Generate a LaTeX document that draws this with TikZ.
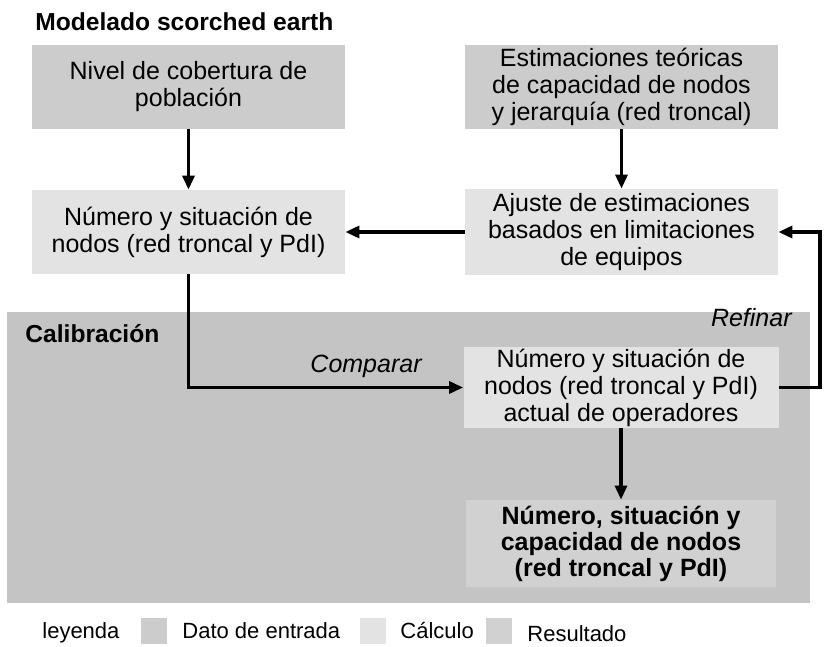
\documentclass[tikz,border=0pt]{standalone}
\usepackage{fontspec}
\setmainfont{Liberation Sans}
\usetikzlibrary{arrows.meta}
\definecolor{inputcol}{gray}{0.80}
\definecolor{calccol}{gray}{0.89}
\definecolor{calibcol}{gray}{0.77}
\definecolor{resultcol}{gray}{0.82}
\tikzset{
  box/.style={minimum width=156.5pt, minimum height=42pt, inner sep=0pt, align=center,
    font=\fontsize{12.5}{13.5}\selectfont},
  inputbox/.style={box, fill=inputcol},
  calcbox/.style={box, fill=calccol},
  resultbox/.style={box, fill=resultcol, font=\fontsize{12.5}{13}\selectfont\bfseries},
  flow/.style={line width=1.6pt, -{Triangle[length=7pt,width=6pt]}},
  swatch/.style={minimum width=13pt, minimum height=13pt, inner sep=0pt},
  legendtext/.style={anchor=base west, inner sep=0pt, font=\fontsize{11}{13}\selectfont}
}
\begin{document}
\begin{tikzpicture}[x=0.5pt,y=-0.5pt]
\useasboundingbox (0,0) rectangle (835,647);
% Calibration area
\fill[calibcol] (7,312) rectangle (810,603);
\node[anchor=base west, inner sep=0pt, font=\fontsize{12.3}{14}\selectfont\bfseries] (calib) at (25,342) {Calibración};
% Title
\node[anchor=base west, inner sep=0pt, font=\fontsize{12.3}{14}\selectfont\bfseries] (title) at (35,31) {Modelado scorched earth};
% Draw boxes
\node[inputbox] (cobertura) at (188.5,87) {Nivel de cobertura de\\población};
\node[inputbox] (estimaciones) at (621.5,87) {Estimaciones teóricas\\de capacidad de nodos\\y jerarquía (red troncal)};
\node[calcbox] (nodos) at (188.5,232) {Número y situación de\\nodos (red troncal y PdI)};
\node[calcbox, minimum height=43pt] (ajuste) at (621.5,232) {Ajuste de estimaciones\\basados en limitaciones\\de equipos};
\node[calcbox, minimum width=157.5pt, minimum height=40.5pt] (actual) at (621,387.5) {Número y situación de\\nodos (red troncal y PdI)\\actual de operadores};
\node[resultbox, minimum width=155pt, minimum height=43.5pt] (resultado) at (621,543.5) {Número, situación y\\capacidad de nodos\\(red troncal y PdI)};
% Draw connectors
\coordinate (loop) at (820,387.5);
\draw[flow] (cobertura) -- (nodos);
\draw[flow] (estimaciones) -- (ajuste);
\draw[flow] (ajuste) -- (nodos);
\draw[flow] (nodos.south) |- (actual.west);
\draw[flow] (actual) -- (resultado);
\draw[flow] (actual.east) -- (loop) |- (ajuste.east);
% Labels on connectors
\node[anchor=base east, inner sep=0pt, font=\fontsize{12.5}{14}\selectfont\itshape] (comparar) at (422,372) {Comparar};
\node[anchor=base east, inner sep=0pt, font=\fontsize{12.5}{14}\selectfont\itshape] (refinar) at (792,326) {Refinar};
% Legend
\node[legendtext] (leyenda) at (42,638) {leyenda};
\node[swatch, fill=inputcol] (swinput) at (153.5,631) {};
\node[legendtext] (dato) at (182,638) {Dato de entrada};
\node[swatch, fill=calccol] (swcalc) at (372.5,631) {};
\node[legendtext] (calculo) at (400,638) {Cálculo};
\node[swatch, fill=resultcol] (swresult) at (499,631) {};
\node[legendtext] (resultadotxt) at (527,641) {Resultado};
\end{tikzpicture}
\end{document}
